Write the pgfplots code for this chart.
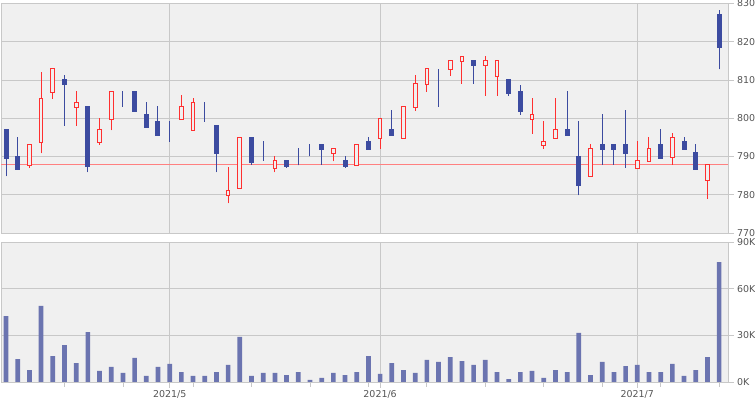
\documentclass[border=0pt]{standalone}
\usepackage{pgfplots}
\pgfplotsset{compat=1.18}
\usepackage{pgfplotstable}
\usepackage{fontspec}
\setmainfont{DejaVu Sans}

\definecolor{bgc}{HTML}{F0F0F0}
\definecolor{gridc}{HTML}{C8C8C8}
\definecolor{txtc}{HTML}{555555}
\definecolor{downc}{HTML}{3C4BA0}
\definecolor{upc}{HTML}{FF3030}
\definecolor{volc}{HTML}{6B74B0}
\definecolor{refc}{HTML}{FF8080}

% down (blue, filled) candles: day, open, high, low, close
\pgfplotstableread{
i o h l c
0 797.1 797.1 784.9 789.6
1 790.0 795.0 786.7 786.7
5 810.2 811.3 798.0 808.7
7 803.1 803.1 785.9 787.5
10 807.0 807.0 803.0 807.0
11 807.1 807.1 801.7 801.7
12 801.0 804.2 797.7 797.7
13 799.2 803.1 795.6 795.6
14 796.0 799.2 793.8 796.0
17 799.1 804.2 799.1 799.1
18 798.2 798.2 785.9 790.7
21 795.0 795.0 787.8 788.5
22 788.9 794.0 788.9 788.9
24 789.0 789.0 787.0 787.5
25 790.0 792.1 787.7 790.0
26 790.0 793.2 790.0 790.0
27 793.2 793.2 787.8 791.7
29 789.0 790.1 787.0 787.5
31 794.0 795.1 791.7 791.7
33 797.0 802.1 795.6 795.6
37 813.0 813.0 803.0 813.0
40 815.1 815.1 809.0 813.7
43 810.1 810.1 805.9 806.6
44 807.1 808.6 800.9 801.7
48 797.0 807.1 795.6 795.6
49 790.0 799.2 779.9 782.5
51 793.2 801.0 787.8 791.7
52 793.2 793.2 787.8 791.7
53 793.2 802.1 787.0 790.7
56 793.2 797.1 789.6 789.6
58 794.0 795.0 791.7 791.7
59 791.1 793.2 786.6 786.6
61 827.2 828.3 812.8 818.6
}\downtbl

% up (red, hollow) candles
\pgfplotstableread{
i o h l c
2 787.6 793.1 787.0 793.1
3 793.6 812.1 790.9 805.2
4 806.7 813.0 805.1 813.0
6 802.8 807.1 798.0 804.1
8 793.6 800.0 793.1 797.0
9 799.7 807.0 796.9 807.0
15 799.7 806.0 799.7 803.1
16 796.8 805.2 796.8 804.1
19 779.7 787.2 777.8 781.0
20 781.6 794.9 781.6 794.9
23 786.8 790.0 785.9 788.9
28 790.7 792.1 788.8 792.1
30 787.6 793.1 787.6 793.1
32 794.7 799.9 792.0 799.9
34 794.7 803.1 794.7 803.1
35 802.8 811.3 801.9 809.1
36 808.8 813.0 806.9 813.0
38 812.8 815.1 811.1 815.1
39 814.8 816.2 809.0 816.2
41 813.8 816.2 805.9 815.1
42 810.9 815.1 805.9 815.1
45 799.7 805.2 795.9 801.0
46 792.8 799.2 792.0 793.9
47 794.7 805.2 794.7 797.0
50 784.7 793.2 784.7 792.1
54 786.8 794.0 786.8 788.9
55 788.7 795.0 788.7 792.1
57 789.7 796.1 787.8 794.9
60 783.6 787.9 778.9 787.9
}\uptbl

\pgfplotstableread{
i v
0 42500
1 14800
2 7700
3 49000
4 16700
5 23800
6 12200
7 32200
8 7100
9 9700
10 5800
11 15500
12 3900
13 9700
14 11600
15 6400
16 3900
17 3900
18 6400
19 11000
20 29000
21 3900
22 5800
23 5800
24 4500
25 6400
26 1300
27 2600
28 5800
29 4500
30 6400
31 16700
32 5200
33 12200
34 7700
35 5800
36 14200
37 12900
38 16100
39 13500
40 11000
41 14200
42 6400
43 1900
44 6400
45 7100
46 2600
47 7700
48 6400
49 31600
50 4500
51 12900
52 6400
53 10300
54 11000
55 6400
56 6400
57 11600
58 3900
59 7700
60 16100
61 77300
}\voltbl

\newcommand{\labfont}{\fontsize{9.5}{11}\selectfont}

\pgfplotsset{
  chartbase/.style={
    scale only axis, width=727bp, anchor=south west,
    xmin=-0.43, xmax=61.76,
    enlarge x limits=false, enlarge y limits=false,
  },
  pricebox/.style={chartbase, at={(1bp,167bp)}, height=229.5bp, ymin=770, ymax=830},
  panelstyle/.style={
    axis background/.style={fill=bgc},
    axis line style={gridc, line width=0.8bp},
    grid style={gridc, line width=0.8bp},
    tick style={gridc, line width=0.8bp},
    tick align=outside,
    major tick length=5.5bp, minor tick length=4.5bp,
    ytick pos=right, yticklabel pos=right,
    ymajorgrids, xmajorgrids,
    ticklabel style={font=\labfont, text=txtc},
    /pgf/number format/assume math mode=true,
  },
  wick/.style={only marks, mark=*, mark size=0pt,
    mark options={draw=none, fill=none},
    error bars/.cd, y dir=plus, y explicit, error mark=none,
    error bar style={#1, line width=1bp}},
}

\begin{document}
\begin{tikzpicture}
\useasboundingbox (0,0) rectangle (755bp,400bp);

% price panel: grid, reference line, wicks
\begin{axis}[pricebox, panelstyle,
  xtick={14,32,54}, xticklabels={}, xtick style={draw=none},
  ytick={770,780,...,830},
]
\addplot[refc, line width=1bp] coordinates {(-0.43,788) (61.76,788)};
\addplot[wick=downc]
  table[x=i, y=l, y error expr=\thisrow{h}-\thisrow{l}] \downtbl;
\addplot[wick=upc]
  table[x=i, y=l, y error expr=\thisrow{h}-\thisrow{l}] \uptbl;
\end{axis}

% blue bodies
\begin{axis}[pricebox, hide axis, ybar stacked, bar width=4bp]
\addplot[draw=none, fill=none] table[x=i, y=c] \downtbl;
\addplot[fill=downc, draw=downc, line width=1bp]
  table[x=i, y expr=\thisrow{o}-\thisrow{c}] \downtbl;
\end{axis}

% red hollow bodies
\begin{axis}[pricebox, hide axis, ybar stacked, bar width=3.7bp]
\addplot[draw=none, fill=none] table[x=i, y=o] \uptbl;
\addplot[fill=bgc, draw=upc, line width=1bp]
  table[x=i, y expr=\thisrow{c}-\thisrow{o}] \uptbl;
\end{axis}

% volume panel
\begin{axis}[chartbase, panelstyle, at={(1bp,18bp)}, height=139.7bp,
  ymin=0, ymax=90000,
  xtick={14,32,54}, xticklabels={2021/5,2021/6,2021/7},
  minor xtick={5,10,16,21,26,31,36,41,46,51,56,61},
  xtick pos=bottom,
  xticklabel style={yshift=0.5bp},
  ytick={0,30000,60000,90000}, yticklabels={0K,30K,60K,90K},
  scaled y ticks=false,
]
\addplot[ybar, bar width=4.7bp, fill=volc, draw=none] table[x=i, y=v] \voltbl;
\end{axis}
\end{tikzpicture}
\end{document}
